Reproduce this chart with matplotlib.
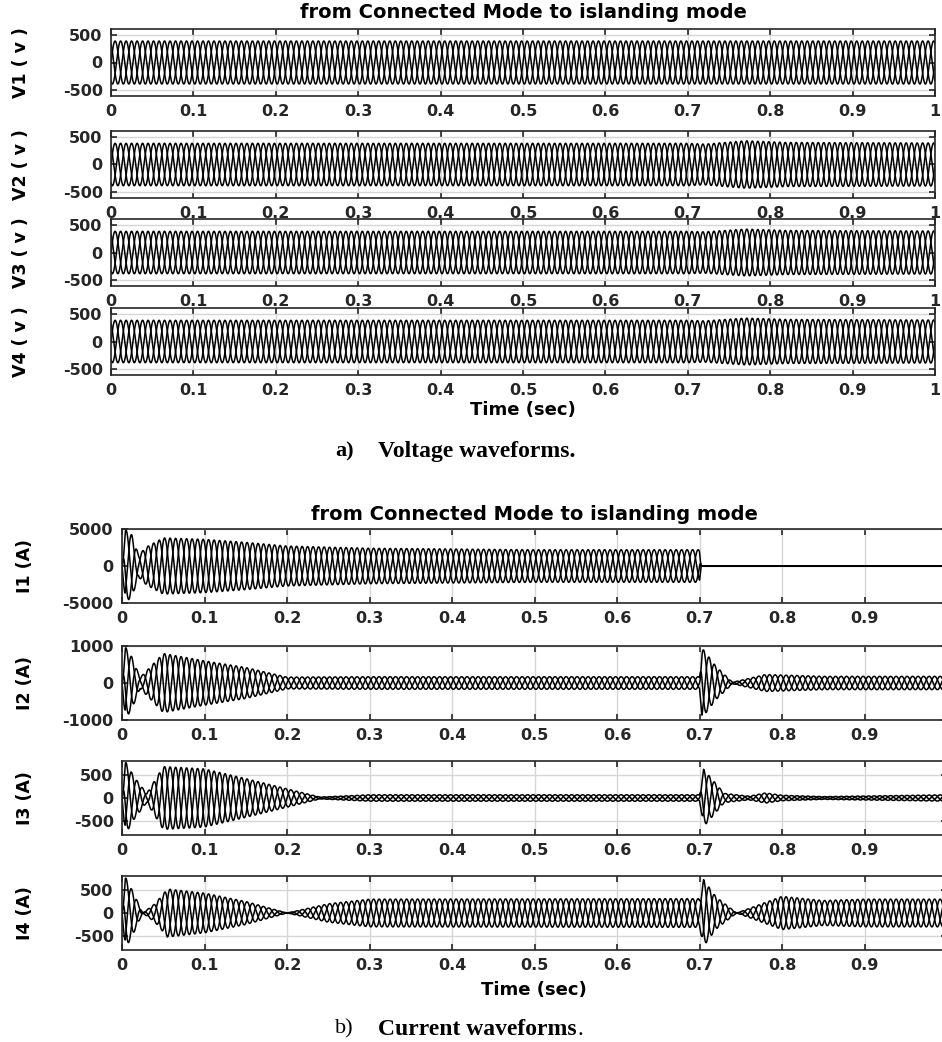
import numpy as np
import matplotlib.pyplot as plt

# envelope knots (time in s, peak value)
v1_t = [0.0, 1.0]
v1_a = [385, 385]
v2_t = [0.0, 0.70, 0.72, 0.77, 0.82, 1.0]
v2_a = [380, 380, 365, 425, 395, 385]
v3_t = [0.0, 0.70, 0.72, 0.77, 0.82, 1.0]
v3_a = [380, 380, 370, 420, 395, 385]
v4_t = [0.0, 0.70, 0.72, 0.77, 0.82, 1.0]
v4_a = [380, 380, 370, 420, 395, 385]

i1_t = [0.0, 0.004, 0.012, 0.02, 0.03, 0.05, 0.1, 0.15, 0.2, 0.3, 0.4, 0.5, 0.6, 0.7, 0.702, 1.0]
i1_a = [0, 4900, 4200, 1500, 2600, 3800, 3600, 3200, 2700, 2400, 2300, 2200, 2200, 2200, 0, 0]

i2_t = [0.0, 0.004, 0.012, 0.022, 0.035, 0.05, 0.1, 0.15, 0.2, 0.3, 0.5, 0.7, 0.703, 0.72, 0.74, 0.78, 0.85, 1.0]
i2_a = [0, 980, 700, 150, 450, 800, 600, 420, 160, 170, 170, 170, 950, 450, 20, 230, 180, 180]

i3_t = [0.0, 0.004, 0.015, 0.03, 0.05, 0.1, 0.15, 0.2, 0.24, 0.3, 0.7, 0.705, 0.73, 0.76, 0.78, 0.8, 0.85, 1.0]
i3_a = [0, 790, 450, 100, 680, 630, 420, 200, 20, 70, 70, 620, 100, 40, 110, 60, 30, 70]

i4_t = [0.0, 0.004, 0.015, 0.025, 0.04, 0.055, 0.1, 0.15, 0.2, 0.25, 0.3, 0.7, 0.705, 0.72, 0.745, 0.8, 0.85, 0.9, 1.0]
i4_a = [0, 780, 400, 0, 200, 520, 430, 250, 0, 200, 300, 310, 720, 350, 0, 360, 270, 300, 300]

freq = 50.0
x_ticks = [0, 0.1, 0.2, 0.3, 0.4, 0.5, 0.6, 0.7, 0.8, 0.9, 1.0]
x_labels = ['0', '0.1', '0.2', '0.3', '0.4', '0.5', '0.6', '0.7', '0.8', '0.9', '1']

volt = [('V1 ( v )', v1_t, v1_a), ('V2 ( v )', v2_t, v2_a),
        ('V3 ( v )', v3_t, v3_a), ('V4 ( v )', v4_t, v4_a)]
curr = [('I1 (A)', i1_t, i1_a, 5000, [-5000, 0, 5000]),
        ('I2 (A)', i2_t, i2_a, 1000, [-1000, 0, 1000]),
        ('I3 (A)', i3_t, i3_a, 800, [-500, 0, 500]),
        ('I4 (A)', i4_t, i4_a, 800, [-500, 0, 500])]

W, H = 942, 1042
fig = plt.figure(figsize=(W / 100, H / 100), dpi=100)
tick_font = dict(family='DejaVu Sans', weight='bold', size=11.5)
t = np.linspace(0, 1, 20001)


def px_axes(left, top, width, height):
    return fig.add_axes([left / W, 1 - (top + height) / H, width / W, height / H])


def style(ax, ylim, yticks):
    ax.set_xlim(0, 1)
    ax.set_ylim(-ylim, ylim)
    ax.set_xticks(x_ticks)
    ax.set_xticklabels(x_labels, **tick_font)
    ax.set_yticks(yticks)
    ax.set_yticklabels([str(v) for v in yticks], **tick_font)
    ax.grid(True, color='#d6d6d6', lw=1.0)
    ax.set_axisbelow(True)
    ax.tick_params(direction='in', length=4, width=1.2, top=True, right=True, pad=6, colors='#262626')
    for s in ax.spines.values():
        s.set_color('#262626')
        s.set_linewidth(1.2)


def draw(ax, kt, ka):
    env = np.interp(t, kt, ka)
    for ph in (0, -2 * np.pi / 3, 2 * np.pi / 3):
        ax.plot(t, env * np.sin(2 * np.pi * freq * t + ph), color='black', lw=1.1)


# a) voltages
tops_v = [29, 131, 219, 308]
for (lab, kt, ka), top in zip(volt, tops_v):
    ax = px_axes(111, top, 824, 67)
    draw(ax, kt, ka)
    style(ax, 600, [-500, 0, 500])
    ax.set_ylabel(lab, fontsize=12.5, fontweight='bold')
    ax.yaxis.set_label_coords((30 - 111) / 824, 0.5)

fig.text(523 / W, 1 - 3 / H, 'from Connected Mode to islanding mode', ha='center', va='top',
         fontsize=14, fontweight='bold')
fig.text(523 / W, 1 - 401 / H, 'Time (sec)', ha='center', va='top', fontsize=13, fontweight='bold')
fig.text(335 / W, 1 - 441 / H, 'a)', ha='left', va='top', fontsize=16, fontweight='bold',
         family='Liberation Serif')
fig.text(378 / W, 1 - 441 / H, 'Voltage waveforms.', ha='left', va='top', fontsize=17,
         fontweight='bold', family='Liberation Serif')

# b) currents
tops_i = [529, 646, 761, 876]
for (lab, kt, ka, yl, yt), top in zip(curr, tops_i):
    ax = px_axes(122, top, 825, 74)
    draw(ax, kt, ka)
    style(ax, yl, yt)
    ax.set_ylabel(lab, fontsize=12.5, fontweight='bold')
    ax.yaxis.set_label_coords((34 - 122) / 825, 0.5)

fig.text(534 / W, 1 - 505 / H, 'from Connected Mode to islanding mode', ha='center', va='top',
         fontsize=14, fontweight='bold')
fig.text(534 / W, 1 - 981 / H, 'Time (sec)', ha='center', va='top', fontsize=13, fontweight='bold')
fig.text(335 / W, 1 - 1019 / H, 'b)', ha='left', va='top', fontsize=16, family='Liberation Serif')
cap = fig.text(378 / W, 1 - 1019 / H, 'Current waveforms', ha='left', va='top', fontsize=17,
               fontweight='bold', family='Liberation Serif')
fig.canvas.draw()
bb = cap.get_window_extent()
fig.text((bb.x1 + 1) / W, 1 - 1019 / H, '.', ha='left', va='top', fontsize=17, family='Liberation Serif')

fig.savefig('out.png', dpi=100)
